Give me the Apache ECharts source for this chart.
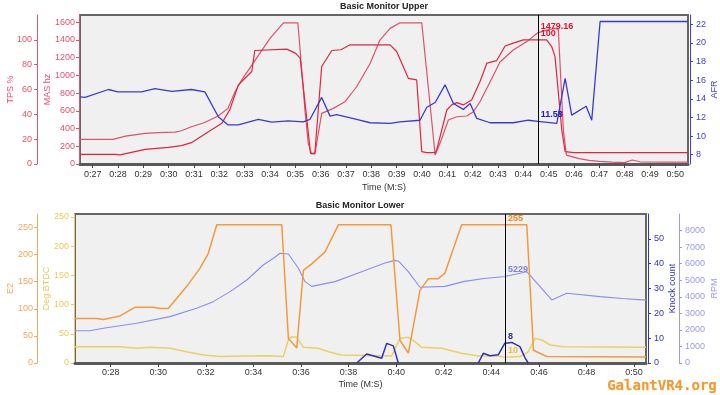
<!DOCTYPE html>
<html><head><meta charset="utf-8">
<script src="https://cdn.jsdelivr.net/npm/echarts@6/dist/echarts.min.js"></script>
<style>html,body{margin:0;padding:0;background:#fff}#c{width:720px;height:395px}</style>
</head><body><div id="c"></div><script>
// ---------- DATA ----------
const cursorTime = 44.57;
const upperTimeTicks = [27,28,29,30,31,32,33,34,35,36,37,38,39,40,41,42,43,44,45,46,47,48,49,50];
const lowerTimeTicks = [28,30,32,34,36,38,40,42,44,46,48,50];
const masTicks = [0,200,400,600,800,1000,1200,1400,1600];
const tpsTicks = [0,20,40,60,80,100];
const afrTicks = [8,10,12,14,16,18,20,22];
const e2Ticks = [0,50,100,150,200,250];
const advTicks = [0,50,100,150,200,250];
const knockTicks = [0,10,20,30,40,50];
const rpmTicks = [0,1000,2000,3000,4000,5000,6000,7000,8000];

const masT = [26.5,27.8,28.3,29.07,29.6,30.25,30.5,30.9,31.4,31.95,32.34,32.62,32.88,34.0,34.53,35.1,35.38,35.51,35.64,35.77,36.04,36.5,36.96,37.42,37.95,38.34,38.74,39.13,39.99,40.52,40.71,41.04,41.37,41.77,42.03,42.29,42.69,43.08,43.6,44.14,44.57,44.92,45.25,45.38,45.58,45.7,46.2,46.6,47.0,47.5,48.0,48.3,48.6,49.5,50.5];
const masV = [278,278,315,346,353,360,375,420,465,541,627,815,946,1416,1592,1592,608,233,113,113,571,627,702,871,1134,1397,1529,1592,1592,101,233,496,533,541,589,702,927,1150,1285,1380,1479.16,1510,1530,1520,383,100,60,40,30,22,15,45,25,22,22];

const tpsT = [26.5,27.9,28.08,29.07,29.99,30.5,30.9,31.57,32.1,32.42,32.75,33.28,33.4,34.66,35.0,35.19,35.6,35.77,36.04,36.44,36.8,37.16,38.74,39.0,39.46,39.79,39.99,40.19,40.52,40.58,40.98,41.17,41.37,41.63,41.96,42.29,42.56,42.95,43.28,43.6,44.0,44.57,44.92,45.12,45.25,45.52,45.65,46.0,50.5];
const tpsV = [7.8,7.8,7.3,11.8,13.4,14.8,17.2,26,32.8,44,63.7,74.5,91.4,92.5,89.3,85.2,8.6,8.6,78.5,91.4,92,96,96,90.6,69,67.7,9.9,9.1,9.1,11.3,43.5,47.6,49.4,47.6,51.6,66.4,81.2,83.3,95,97.3,100,100,100,94.6,86.5,27,10,9.1,9.1];

const afrT = [26.5,26.7,27.62,28.0,28.93,29.46,30.12,30.9,31.43,31.96,32.35,32.75,33.54,34.07,34.72,35.31,35.58,36.04,36.37,36.63,37.42,37.95,38.74,39.13,39.92,40.19,40.52,40.91,41.24,41.63,41.9,42.16,42.69,43.6,44.2,44.57,45.32,45.65,45.91,46.48,46.7,47.03,50.5];
const afrV = [14.2,14.15,15.0,14.75,14.75,15.1,14.8,15.0,14.75,12.07,11.2,11.2,11.8,11.5,11.64,11.53,11.8,14.15,12.14,12.3,11.8,11.43,11.36,11.53,11.7,13.1,13.6,15.5,13.5,12.86,13.5,11.9,11.43,11.43,11.7,11.58,11.36,16.2,12.25,13.2,11.7,22.3,22.3];

const e2T = [26.5,27.41,27.69,28.39,29.02,29.79,30.07,30.42,31.19,31.75,32.1,32.46,35.19,35.47,35.82,36.1,36.45,37.01,37.57,39.78,40.16,40.51,41.0,41.35,41.77,42.05,42.75,44.57,45.49,45.77,45.9,46.33,50.5];
const e2V = [82,82,80.3,86.9,102.8,102.8,100.4,100.4,141,174.6,202,255,255,45,27.5,171,183,205,255,255,42,18.4,134,155.7,155.7,166,255,255,255,24,20.8,12,11];

const advT = [26.5,28.39,29.09,29.65,30.5,31.19,31.89,32.6,33.58,34.7,35.26,35.47,35.61,35.82,36.1,36.73,37.15,37.71,39.81,40.16,40.51,40.79,41.07,41.91,42.75,43.45,44.29,44.57,45.2,45.55,45.84,46.12,46.47,47.03,50.5];
const advV = [27.9,27.9,25.1,26.8,25.1,19.4,13.7,11,12,12.3,11,40,45,44,26.8,25.1,19.4,13.7,12,42.3,44,36.6,26.8,25.1,16.6,12,12,10,11,19,42,39.4,30.8,28,27];

const rpmT = [26.5,27.13,27.69,29.09,30.49,31.61,32.31,33.02,33.72,34.41,34.84,35.12,35.47,35.89,36.17,36.45,37.43,38.41,39.53,39.95,40.1,40.51,41.0,42.05,42.87,43.7,44.57,45.49,46.54,47.17,48.57,49.5,50.5];
const rpmV = [1950,1950,2095,2397,2800,3305,3706,4310,5015,5920,6325,6627,6586,5720,4915,4630,4915,5440,6040,6200,6150,5520,4575,4630,4930,5100,5229,5517,3807,4210,4010,3900,3800];

// knock is only drawn while it is counting (zero stretches lie under the axis line)
const knockT = [38.34,38.76,39.39,39.6,39.88,40.09,40.1,43.45,43.66,43.94,44.29,44.57,44.86,45.2,45.42,45.55];
const knockV = [0,3.6,1.9,7.9,6.9,0,null,0,3.9,2.9,3.3,8,8.3,6.6,2,0];

const cursorReadouts = {mas:'1479.16', tps:'100', afr:'11.58', e2:'255', rpm:'5229', knock:'8', adv:'10'};

// ---------- CHART ----------
const font = '"Liberation Sans", Arial, sans-serif';
const C = {
  tps:'#e3243f', mas:'#e0506c', axRed:'#e8506a', afr:'#3a3ad2',
  e2:'#f29a3c', adv:'#ead068', knock:'#3030c0', rpm:'#8c8cf0'
};
const zip = (t, v) => t.map((x, i) => [x, v[i]]);
const fmtTime = v => Math.floor(v / 60) + ':' + String(Math.round(v % 60)).padStart(2, '0');

function xAx(grid, ticks, gap, margin) {
  return {
    type:'value', gridIndex:grid, min:26.5, max:50.5, z:3,
    name:'Time (M:S)', nameLocation:'middle', nameGap:gap, nameMoveOverlap:false,
    nameTextStyle:{color:'#333', fontSize:9, fontFamily:font},
    axisLine:{show:true, onZero:false, lineStyle:{color:'#5a5a5a', width:3}},
    axisTick:{show:true, length:4, customValues:ticks, lineStyle:{color:'#444'}},
    axisLabel:{color:'#333', fontSize:9, fontFamily:font, margin:margin, customValues:ticks, formatter:fmtTime},
    splitLine:{show:false}
  };
}
function yAx(o) {
  return {
    type:'value', gridIndex:o.grid, position:o.pos, offset:o.offset, min:o.min, max:o.max,
    name:o.name, nameLocation:'middle', nameGap:o.gap, nameRotate:90, nameMoveOverlap:false,
    nameTextStyle:{color:o.color, fontSize:9, fontFamily:font},
    axisLine:{show:true, onZero:false, lineStyle:{color:o.color, width:1}},
    axisTick:{show:true, length:3, customValues:o.ticks, lineStyle:{color:o.color}},
    axisLabel:{color:o.color, fontSize:9, fontFamily:font, margin:o.margin, customValues:o.ticks,
      formatter:v => String(v)},
    splitLine:{show:false}
  };
}
function readout(value, text, color) {
  return {
    symbol:'circle', symbolSize:0, silent:true,
    data:[{coord:[cursorTime, value], label:{show:true, formatter:text, position:[3,-11],
      color:color, fontSize:9, fontWeight:'bold', fontFamily:font}}]
  };
}
const cursorLine = {
  silent:true, symbol:['none','none'], label:{show:false},
  lineStyle:{color:'#000', width:1, type:'solid'}, data:[{xAxis:cursorTime}]
};
function line(name, data, xi, yi, color, width, extra) {
  return Object.assign({
    name, type:'line', data, xAxisIndex:xi, yAxisIndex:yi, showSymbol:false, symbol:'none',
    connectNulls:false, lineStyle:{color, width}, itemStyle:{color}, animation:false
  }, extra || {});
}

const chart = echarts.init(document.getElementById('c'), null, {renderer:'canvas'});
chart.setOption({
  animation:false,
  backgroundColor:'#fff',
  title:[
    {text:'Basic Monitor Upper', left:384, top:2, padding:0, textAlign:'center',
     textStyle:{fontSize:9, fontWeight:'bold', color:'#222', fontFamily:font}},
    {text:'Basic Monitor Lower', left:360, top:201, padding:0, textAlign:'center',
     textStyle:{fontSize:9, fontWeight:'bold', color:'#222', fontFamily:font}}
  ],
  grid:[
    {left:80, top:15, width:608, height:149, show:true, backgroundColor:'#f0f0f0', borderColor:'#666', borderWidth:2, outerBoundsMode:'none', containLabel:false},
    {left:75, top:214, width:571, height:149, show:true, backgroundColor:'#f0f0f0', borderColor:'#666', borderWidth:2, outerBoundsMode:'none', containLabel:false}
  ],
  xAxis:[ xAx(0, upperTimeTicks, 19, 6), xAx(1, lowerTimeTicks, 17, 5) ],
  yAxis:[
    yAx({grid:0, pos:'left', offset:1, min:0, max:1680, name:'MAS hz', gap:27, color:C.axRed, ticks:masTicks, margin:4}),
    yAx({grid:0, pos:'left', offset:43, min:0, max:120, name:'TPS %', gap:22, color:C.axRed, ticks:tpsTicks, margin:5}),
    yAx({grid:0, pos:'right', offset:2, min:7, max:23, name:'AFR', gap:20, color:'#4040d0', ticks:afrTicks, margin:6}),
    yAx({grid:1, pos:'left', offset:1, min:0, max:255, name:'Deg BTDC', gap:23, color:'#e8cc5c', ticks:advTicks, margin:5}),
    yAx({grid:1, pos:'left', offset:38, min:0, max:275, name:'E2', gap:22, color:'#f4a75a', ticks:e2Ticks, margin:4}),
    yAx({grid:1, pos:'right', offset:2, min:0, max:60, name:'Knock count', gap:20, color:'#3535c0', ticks:knockTicks, margin:6}),
    yAx({grid:1, pos:'right', offset:33, min:0, max:9000, name:'RPM', gap:31, color:'#9a9af0', ticks:rpmTicks, margin:6})
  ],
  series:[
    line('MAS', zip(masT, masV), 0, 0, C.mas, 1.2, {markLine:cursorLine, markPoint:readout(1479.16, cursorReadouts.mas, '#e0102e')}),
    line('TPS', zip(tpsT, tpsV), 0, 1, C.tps, 1.2, {markPoint:readout(100, cursorReadouts.tps, '#e0102e')}),
    line('AFR', zip(afrT, afrV), 0, 2, C.afr, 1.3, {markPoint:readout(11.58, cursorReadouts.afr, '#2020c0')}),
    line('RPM', zip(rpmT, rpmV), 1, 6, C.rpm, 1.1, {markPoint:readout(5229, cursorReadouts.rpm, '#8080e0')}),
    line('Deg BTDC', zip(advT, advV), 1, 3, C.adv, 1.5, {markPoint:readout(10, cursorReadouts.adv, '#e8c030')}),
    line('E2', zip(e2T, e2V), 1, 4, C.e2, 1.5, {markLine:cursorLine, markPoint:readout(255, cursorReadouts.e2, '#f08a20')}),
    line('Knock', zip(knockT, knockV), 1, 5, C.knock, 1.5, {markPoint:readout(8, cursorReadouts.knock, '#2828c8')})
  ],
  graphic:[
    {type:'text', right:3, bottom:1, silent:true, z:100,
     style:{text:'GalantVR4.org', font:'bold 14px "DejaVu Sans Mono", monospace',
       fill:'#f29a34', stroke:'#fbd9a8', lineWidth:0.5}}
  ]
});
</script></body></html>
